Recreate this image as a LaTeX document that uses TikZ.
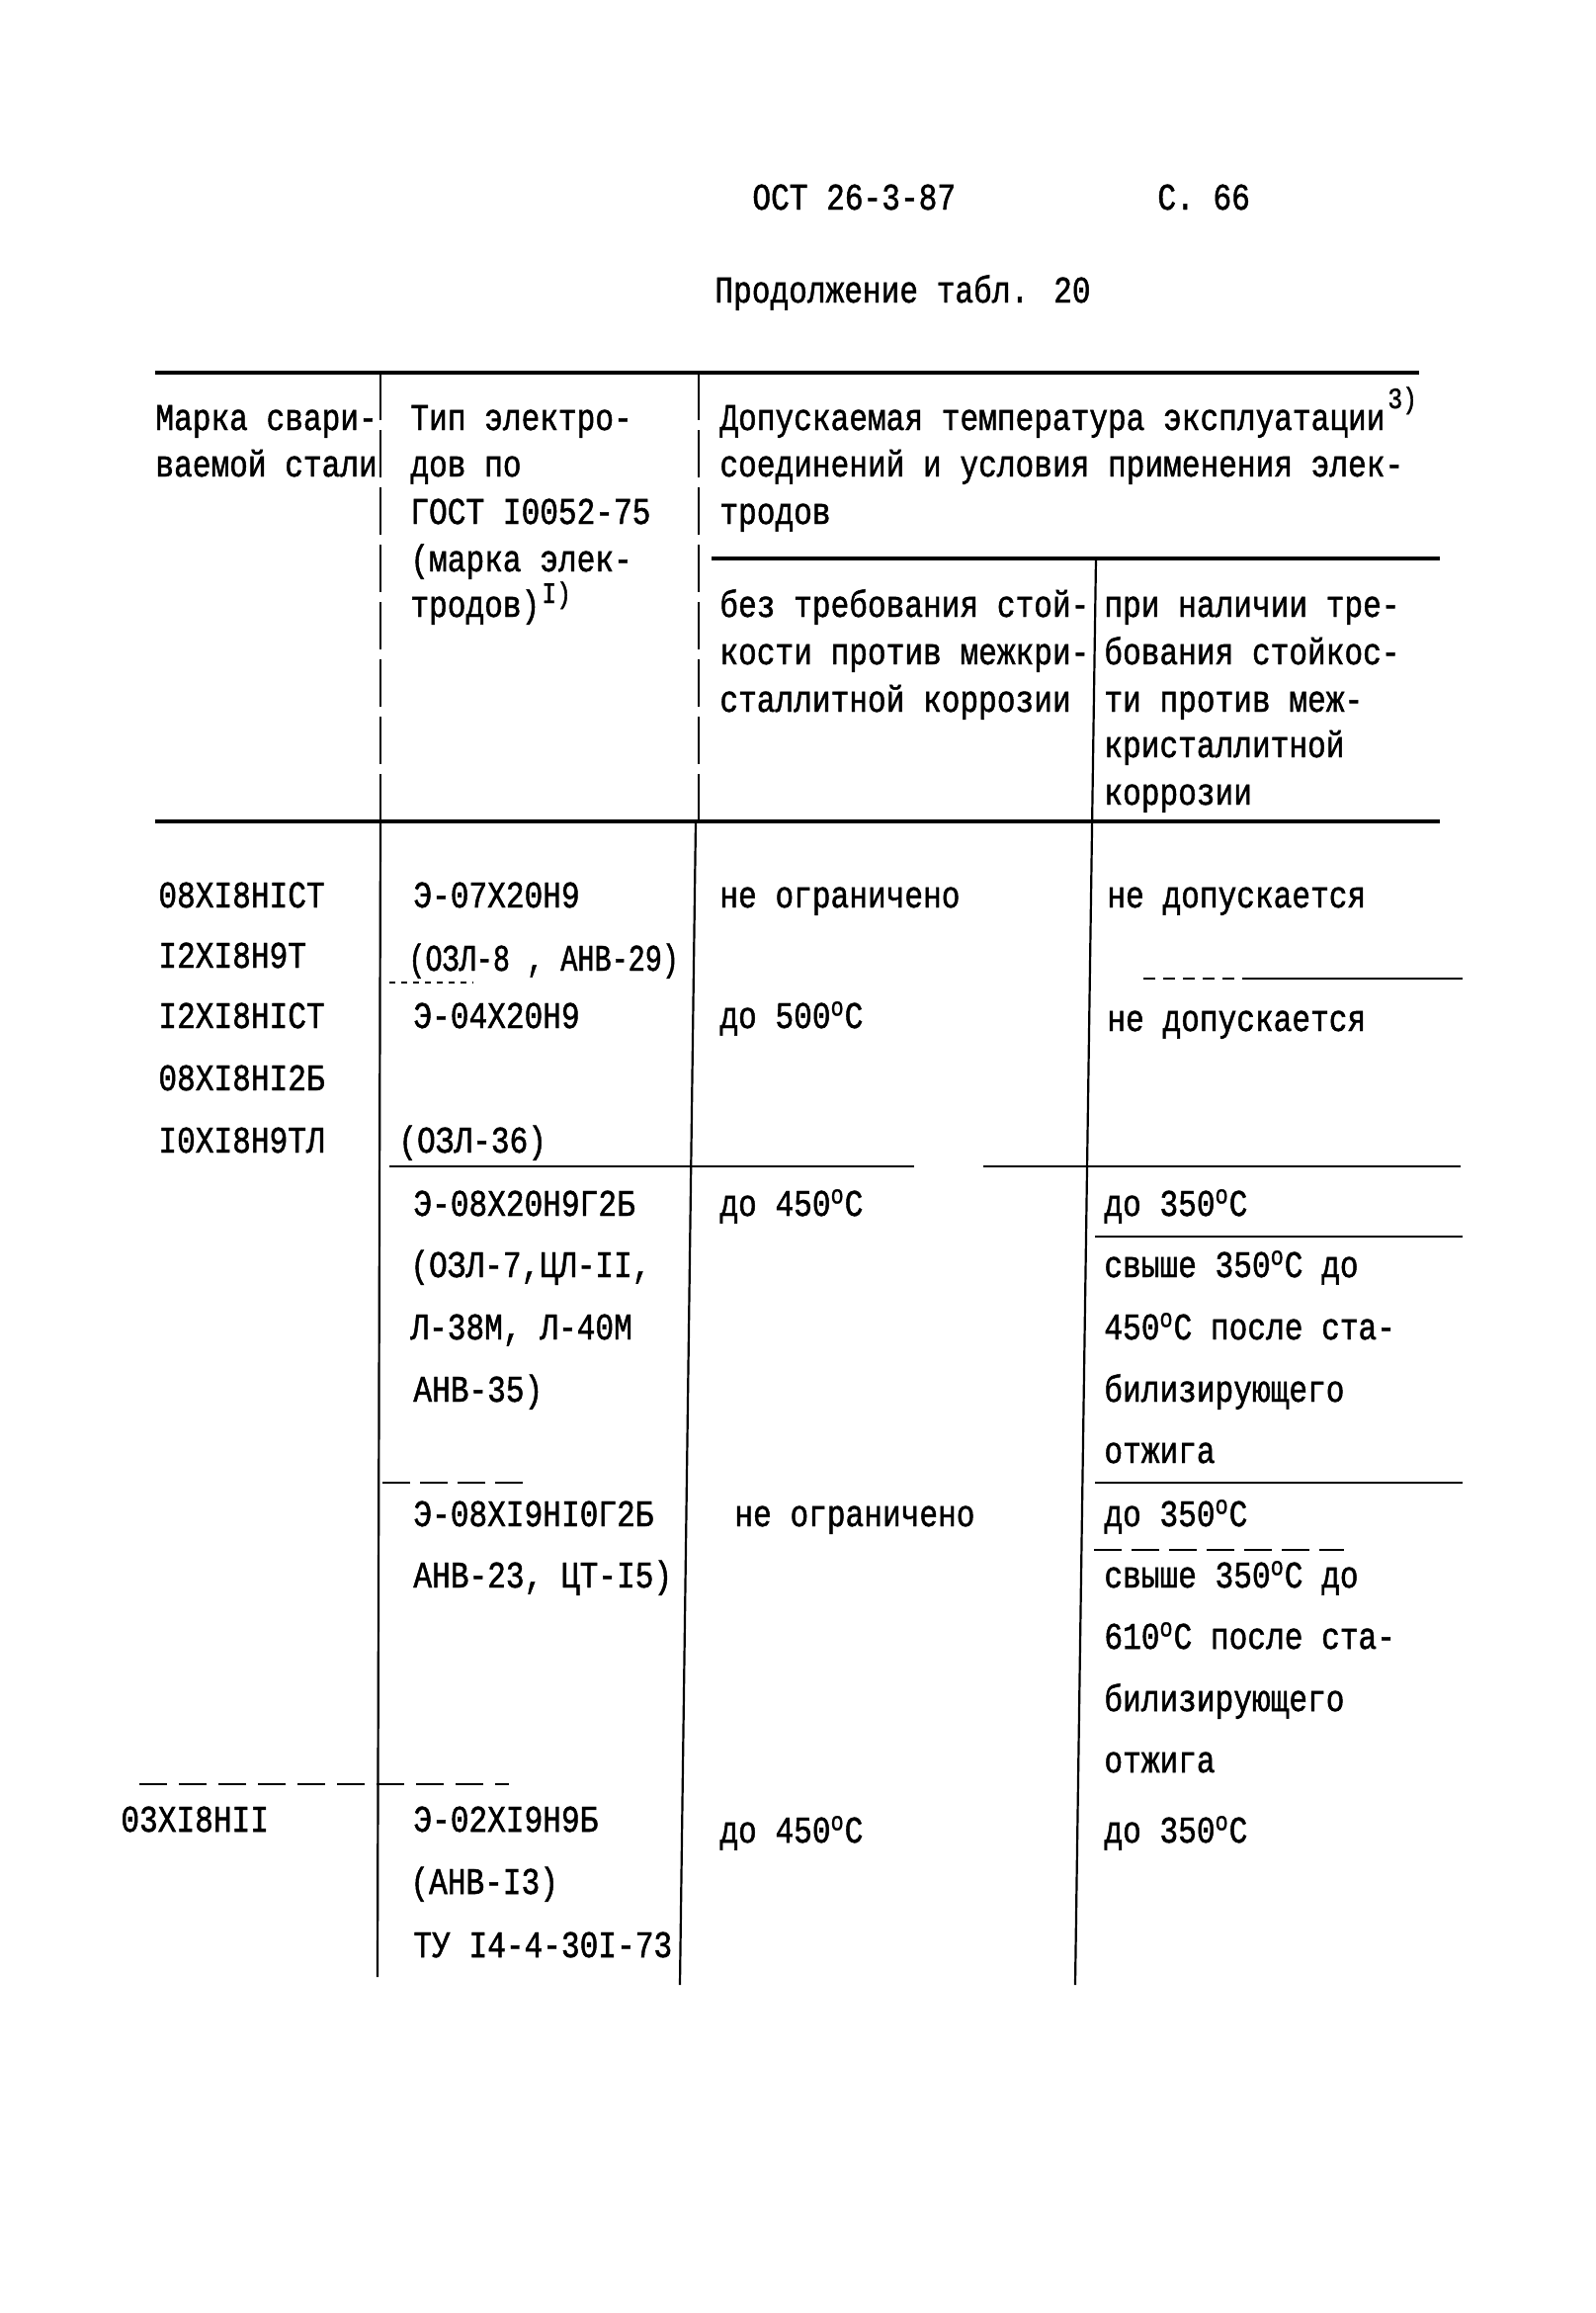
\documentclass[tikz,border=0pt]{standalone}
\usepackage{fontspec}
\newfontfamily\tw[FakeStretch=0.82,FakeBold=1.2]{Liberation Mono}
\newfontfamily\twn[FakeStretch=0.75,FakeBold=1.2]{Liberation Mono}
\newcommand\tfont{\tw\fontsize{19}{22}\selectfont}
\newcommand\degr{\textsuperscript{o}}
\begin{document}
\begin{tikzpicture}[x=0.5pt,y=-0.5pt,
  t/.style={anchor=base west, inner sep=0pt, font=\tfont},
  sup/.style={anchor=base west, inner sep=0pt, font=\tw\fontsize{15}{17}\selectfont},
  thick rule/.style={line width=2.2pt},
  mid rule/.style={line width=1.4pt},
  thin rule/.style={line width=1.1pt},
  broken/.style={line width=1.1pt, dash pattern=on 24pt off 5pt}]
\useasboundingbox (0,0) rectangle (1614,2340);
\fill[white] (0,0) rectangle (1614,2340);
% page header
\node[t] (h1) at (761,212) {ОСТ 26-3-87};
\node[t] (h2) at (1171,212) {С. 66};
\node[t] (h3) at (723,306) {Продолжение табл. 20};
% table header
\node[t] (a1) at (157,435) {Марка свари-};
\node[t] (a2) at (157,482) {ваемой стали};
\node[t] (b1) at (415,435) {Тип электро-};
\node[t] (b2) at (415,482) {дов по};
\node[t] (b3) at (415,530) {ГОСТ I0052-75};
\node[t] (b4) at (415,578) {(марка элек-};
\node[t] (b5) at (415,624) {тродов)};
\node[sup] (b6) at (548,610) {I)};
\node[t] (c1) at (728,435) {Допускаемая температура эксплуатации};
\node[sup] (c0) at (1404,413) {3)};
\node[t] (c2) at (728,482) {соединений и условия применения элек-};
\node[t] (c3) at (728,530) {тродов};
\node[t] (c4) at (728,624) {без требования стой-};
\node[t] (c5) at (728,672) {кости против межкри-};
\node[t] (c6) at (728,720) {сталлитной коррозии};
\node[t] (d1) at (1117,624) {при наличии тре-};
\node[t] (d2) at (1117,672) {бования стойкос-};
\node[t] (d3) at (1117,720) {ти против меж-};
\node[t] (d4) at (1117,766) {кристаллитной};
\node[t] (d5) at (1117,814) {коррозии};
% column 1 body
\node[t] (s1) at (160,918) {08ХI8НIСТ};
\node[t] (s2) at (160,979) {I2ХI8Н9Т};
\node[t] (s3) at (160,1040) {I2ХI8НIСТ};
\node[t] (s4) at (160,1103) {08ХI8НI2Б};
\node[t] (s5) at (160,1166) {I0ХI8Н9ТЛ};
\node[t] (s6) at (122,1853) {03ХI8НII};
% column 2 body
\node[t] (e1) at (418,918) {Э-07Х20Н9};
\node[t, font=\twn\fontsize{19}{22}\selectfont] (e2) at (413,982) {(ОЗЛ-8 , АНВ-29)};
\node[t] (e3) at (418,1040) {Э-04Х20Н9};
\node[t] (e4) at (403,1166) {(ОЗЛ-36)};
\node[t] (e5) at (418,1230) {Э-08Х20Н9Г2Б};
\node[t] (e6) at (415,1292) {(ОЗЛ-7,ЦЛ-II,};
\node[t] (e7) at (415,1355) {Л-38М, Л-40М};
\node[t] (e8) at (418,1418) {АНВ-35)};
\node[t] (e9) at (418,1544) {Э-08ХI9НI0Г2Б};
\node[t] (e10) at (418,1606) {АНВ-23, ЦТ-I5)};
\node[t] (e11) at (418,1853) {Э-02ХI9Н9Б};
\node[t] (e12) at (415,1916) {(АНВ-I3)};
\node[t] (e13) at (418,1980) {ТУ I4-4-30I-73};
% column 3 body
\node[t] (f1) at (728,918) {не ограничено};
\node[t] (f2) at (728,1040) {до 500\degr С};
\node[t] (f3) at (728,1230) {до 450\degr С};
\node[t] (f4) at (743,1544) {не ограничено};
\node[t] (f5) at (728,1864) {до 450\degr С};
% column 4 body
\node[t] (g1) at (1120,918) {не допускается};
\node[t] (g2) at (1120,1043) {не допускается};
\node[t] (g3) at (1117,1230) {до 350\degr С};
\node[t] (g4) at (1117,1292) {свыше 350\degr С до};
\node[t] (g5) at (1117,1355) {450\degr С после ста-};
\node[t] (g6) at (1117,1418) {билизирующего};
\node[t] (g7) at (1117,1480) {отжига};
\node[t] (g8) at (1117,1544) {до 350\degr С};
\node[t] (g9) at (1117,1606) {свыше 350\degr С до};
\node[t] (g10) at (1117,1668) {610\degr С после ста-};
\node[t] (g11) at (1117,1731) {билизирующего};
\node[t] (g12) at (1117,1793) {отжига};
\node[t] (g13) at (1117,1864) {до 350\degr С};
% main rules
\draw[thick rule] (157,377) -- (1436,377);
\draw[thick rule] (720,565) -- (1457,565);
\draw[thick rule] (157,831) -- (1457,831);
% verticals
\draw[broken] (385,377) -- (385,831);
\draw[thin rule] (385,831) -- (382,2000);
\draw[broken] (707,377) -- (707,831);
\draw[thin rule] (704,831) -- (688,2008);
\draw[thin rule] (1109,565) -- (1088,2008);
% body rules
\draw[thin rule, dashed] (394,994) -- (479,994);
\draw[mid rule, dash pattern=on 6pt off 4pt] (1157,990) -- (1262,990);
\draw[mid rule] (1262,990) -- (1480,990);
\draw[mid rule] (394,1180) -- (925,1180);
\draw[mid rule] (995,1180) -- (1478,1180);
\draw[mid rule] (1108,1251) -- (1480,1251);
\draw[thin rule, dash pattern=on 14pt off 5pt] (387,1500) -- (530,1500);
\draw[mid rule] (1108,1500) -- (1480,1500);
\draw[thin rule, dash pattern=on 14pt off 5pt] (1107,1568) -- (1360,1568);
\draw[thin rule, dash pattern=on 14pt off 6pt] (141,1805) -- (515,1805);
\end{tikzpicture}
\end{document}
